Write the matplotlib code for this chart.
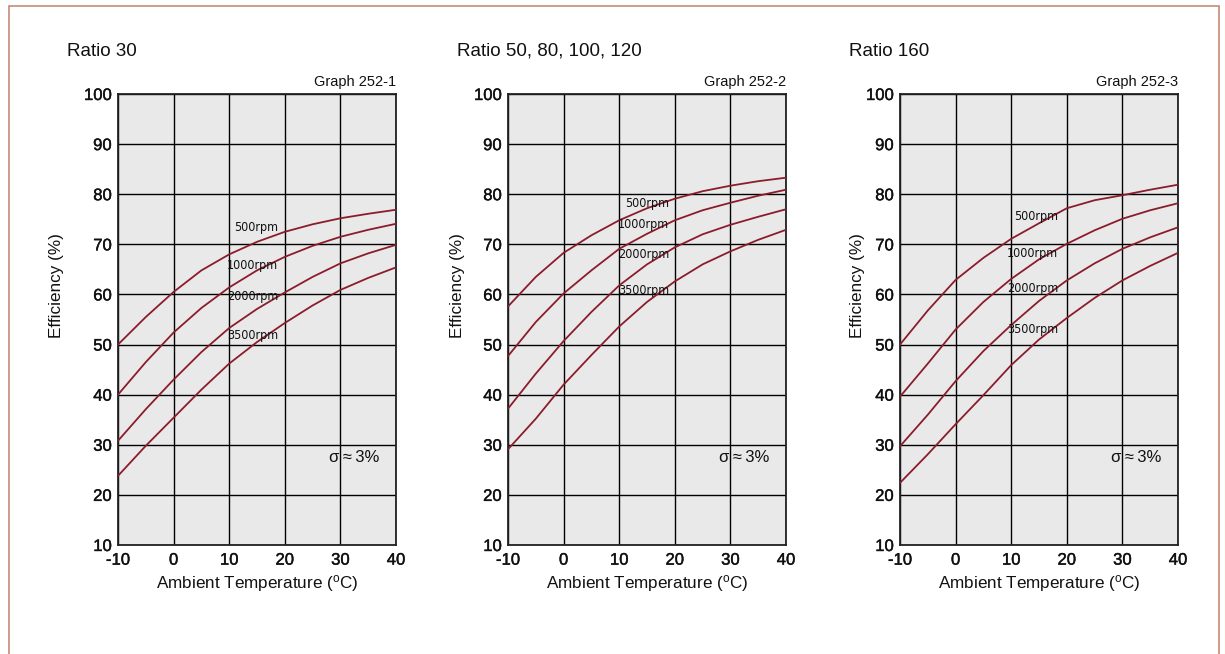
import matplotlib
matplotlib.use("Agg")
import matplotlib.pyplot as plt
import matplotlib.patheffects as pe
from matplotlib.patches import Rectangle

plt.rcParams['font.family'] = ['Liberation Sans', 'DejaVu Sans']
plt.rcParams['axes.unicode_minus'] = False

temps = [-10, -5, 0, 5, 10, 15, 20, 25, 30, 35, 40]
speeds = ["500rpm", "1000rpm", "2000rpm", "3500rpm"]

# Ratio 30 (Graph 252-1)
r30_500 = [50.0, 55.5, 60.5, 64.8, 68.0, 70.5, 72.5, 74.0, 75.2, 76.1, 76.9]
r30_1000 = [40.0, 46.5, 52.4, 57.3, 61.4, 64.8, 67.5, 69.7, 71.5, 72.9, 74.1]
r30_2000 = [30.8, 37.1, 43.0, 48.5, 53.3, 57.1, 60.4, 63.5, 66.2, 68.2, 69.9]
r30_3500 = [23.8, 29.8, 35.4, 41.0, 46.2, 50.5, 54.3, 57.8, 60.9, 63.3, 65.4]

# Ratio 50, 80, 100, 120 (Graph 252-2)
r50_500 = [57.6, 63.5, 68.3, 71.8, 74.8, 77.2, 79.1, 80.6, 81.7, 82.6, 83.3]
r50_1000 = [47.7, 54.5, 60.2, 64.8, 69.1, 72.1, 74.8, 76.8, 78.3, 79.7, 80.9]
r50_2000 = [37.2, 44.2, 50.7, 56.5, 61.8, 66.0, 69.4, 72.0, 73.9, 75.5, 77.0]
r50_3500 = [29.1, 35.2, 42.0, 47.9, 53.6, 58.5, 62.6, 66.0, 68.6, 70.9, 72.9]

# Ratio 160 (Graph 252-3)
r160_500 = [50.0, 56.8, 62.9, 67.3, 71.1, 74.2, 77.2, 78.8, 79.8, 80.9, 81.9]
r160_1000 = [39.6, 46.2, 53.0, 58.5, 63.1, 67.0, 70.1, 72.8, 75.1, 76.8, 78.2]
r160_2000 = [29.7, 36.0, 42.7, 48.7, 53.9, 58.7, 62.8, 66.2, 69.1, 71.4, 73.4]
r160_3500 = [22.4, 28.1, 34.1, 39.9, 45.9, 51.0, 55.3, 59.3, 62.8, 65.7, 68.3]

titles = ["Ratio 30", "Ratio 50, 80, 100, 120", "Ratio 160"]
graph_ids = ["Graph 252-1", "Graph 252-2", "Graph 252-3"]
panels = [
    [r30_500, r30_1000, r30_2000, r30_3500],
    [r50_500, r50_1000, r50_2000, r50_3500],
    [r160_500, r160_1000, r160_2000, r160_3500],
]
# label anchor (right end x, center y) per panel / speed
label_x = [18.8, 19.0, 18.4]
label_y = [
    [73.4, 65.8, 59.6, 51.8],
    [78.2, 73.9, 67.9, 60.8],
    [75.6, 68.2, 61.1, 53.0],
]
x_ticks = [-10, 0, 10, 20, 30, 40]
y_ticks = [10, 20, 30, 40, 50, 60, 70, 80, 90, 100]

W, H = 1225, 654
fig = plt.figure(figsize=(W / 100, H / 100), dpi=100)
fig.patch.set_facecolor("white")

# outer frame
fig.patches.append(Rectangle((9 / W, -0.05), (1219 - 9) / W, 1.05 - 6 / H,
                             transform=fig.transFigure, fill=False,
                             edgecolor="#c48a78", linewidth=1.2))

lefts = [118, 508, 900]
ylabel_px = [56.5, 457.5, 857.5]
curve_color = "#8b1c2c"
thick = [pe.withStroke(linewidth=0.3, foreground="#111111")]
for i in range(3):
    ax = fig.add_axes([lefts[i] / W, (H - 545) / H, 278 / W, 451 / H])
    ax.set_facecolor("#e9e9e9")
    for s, ys in enumerate(panels[i]):
        ax.plot(temps, ys, color=curve_color, lw=1.3, zorder=3,
                solid_joinstyle="round")
    for s, name in enumerate(speeds):
        ax.text(label_x[i], label_y[i][s], name, ha="right", va="center",
                fontsize=9, color="#111111", zorder=4,
                family="DejaVu Sans", fontstretch="condensed")
    ax.text(28.0, 27.4, "σ\u2009≈\u20093%", ha="left", va="center", fontsize=12,
            color="#111111", family=['Liberation Sans', 'DejaVu Sans'])
    ax.set_xlim(-10, 40)
    ax.set_ylim(10, 100)
    ax.set_xticks(x_ticks)
    ax.set_yticks(y_ticks)
    ax.grid(True, color="black", lw=1.0, zorder=1)
    ax.set_axisbelow(True)
    ax.tick_params(length=0, labelsize=12, colors="#111111")
    ax.tick_params(axis="x", pad=5.5)
    ax.tick_params(axis="y", pad=4.5)
    for lab in ax.get_xticklabels() + ax.get_yticklabels():
        lab.set_path_effects(thick)
    for sp in ax.spines.values():
        sp.set_color("#222222")
        sp.set_linewidth(1.3)
    ax.set_xlabel("Ambient Temperature ($\\mathregular{^{o}}$C)", fontsize=12.3,
                  labelpad=4.2, color="#111111")
    ax.set_ylabel("Efficiency (%)", fontsize=12.3, color="#111111")
    ax.yaxis.set_label_coords((ylabel_px[i] - lefts[i]) / 278, 0.576)
    ax.yaxis.label.set_va("center")
    ax.text(1.0, 1.012, graph_ids[i], transform=ax.transAxes, ha="right",
            va="bottom", fontsize=10.5, color="#111111")
    fig.text((lefts[i] - 51) / W, 1 - 51 / H, titles[i], ha="left",
             va="center", fontsize=13.5, color="#111111")

fig.savefig("out.png", dpi=100)
